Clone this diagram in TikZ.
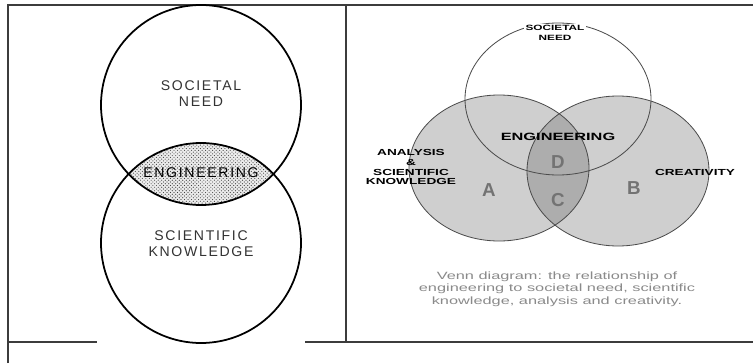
\documentclass[tikz,border=0pt]{standalone}
\usepackage{fontspec}
\setmainfont{Liberation Sans}
\newfontfamily\thinfont[LetterSpace=12]{Liberation Sans}
\newfontfamily\widefont[FakeStretch=1.55]{Liberation Sans}
\usetikzlibrary{patterns}
\definecolor{rulegray}{HTML}{3C3C3C}
\definecolor{lightfill}{HTML}{CFCFCF}
\definecolor{darkfill}{HTML}{ADADAD}
\definecolor{captext}{HTML}{8A8A8A}

\begin{document}
\begin{tikzpicture}[
        x=0.03cm, y=-0.03cm,
        rule/.style={line width=1pt, draw=rulegray},
        ring/.style={line width=1.5pt, draw=black},
        oval/.style={line width=0.7pt, draw=black!70},
        lbl/.style={font=\thinfont\fontsize{12}{13.6}\selectfont, text=black!80, align=center, inner sep=0pt},
        tag/.style={font=\widefont\bfseries\fontsize{7.5}{8.5}\selectfont, align=center, inner sep=0pt},
        letter/.style={font=\bfseries\fontsize{16}{16}\selectfont, text=black!55, inner sep=0pt},
        caption/.style={font=\widefont\fontsize{9}{10.6}\selectfont, text=captext, align=center, inner sep=0pt}
    ]
        \useasboundingbox (0,0) rectangle (754,363);
        \fill[white] (0,0) rectangle (754,363);

        \coordinate (need) at (201,105);
        \coordinate (know) at (201,243);
        \coordinate (soc) at (558,99);
        \coordinate (anal) at (499,168);
        \coordinate (crea) at (618,171);

        \draw[rule] (8,363) -- (8,5) -- (753,5);
        \draw[rule] (346,5) -- (346,342);
        \draw[rule] (8,342) -- (97,342);
        \draw[rule] (305,342) -- (753,342);

        \begin{scope}
            \clip (need) circle[radius=100];
            \fill[gray!15] (know) circle[radius=100];
            \fill[pattern=crosshatch dots, pattern color=black!75] (know) circle[radius=100];
        \end{scope}
        \draw[ring] (need) circle[radius=100];
        \draw[ring] (know) circle[radius=100];

        \node[lbl] (needlbl) at (201,94) {SOCIETAL\\NEED};
        \node[lbl, text=black] (englbl) at (201,173) {ENGINEERING};
        \node[lbl] (knowlbl) at (201,244) {SCIENTIFIC\\KNOWLEDGE};

        \fill[white] (soc) ellipse[x radius=93, y radius=76];
        \fill[lightfill] (anal) ellipse[x radius=90, y radius=73];
        \fill[lightfill] (crea) ellipse[x radius=91, y radius=75];
        \begin{scope}
            \clip (anal) ellipse[x radius=90, y radius=73];
            \fill[darkfill] (crea) ellipse[x radius=91, y radius=75];
        \end{scope}
        \draw[oval] (soc) ellipse[x radius=93, y radius=76];
        \draw[oval] (anal) ellipse[x radius=90, y radius=73];
        \draw[oval] (crea) ellipse[x radius=91, y radius=75];

        \node[tag, font=\widefont\bfseries\fontsize{6.5}{9}\selectfont, fill=white, inner sep=1pt] (soclbl) at (555,33) {SOCIETAL\\NEED};
        \node[tag, font=\widefont\bfseries\fontsize{9}{10}\selectfont] (engtag) at (558,137) {ENGINEERING};
        \node[tag] (analtag) at (411,167) {ANALYSIS\\\&\\SCIENTIFIC\\KNOWLEDGE};
        \node[tag] (creatag) at (695,172) {CREATIVITY};
        \node[letter] (a) at (489,190) {A};
        \node[letter] (b) at (634,188) {B};
        \node[letter] (c) at (558,200) {C};
        \node[letter] (d) at (558,162) {D};

        \node[caption] (cap) at (557,289) {Venn diagram: the relationship of\\engineering to societal need, scientific\\knowledge, analysis and creativity.};
    \end{tikzpicture}
\end{document}
